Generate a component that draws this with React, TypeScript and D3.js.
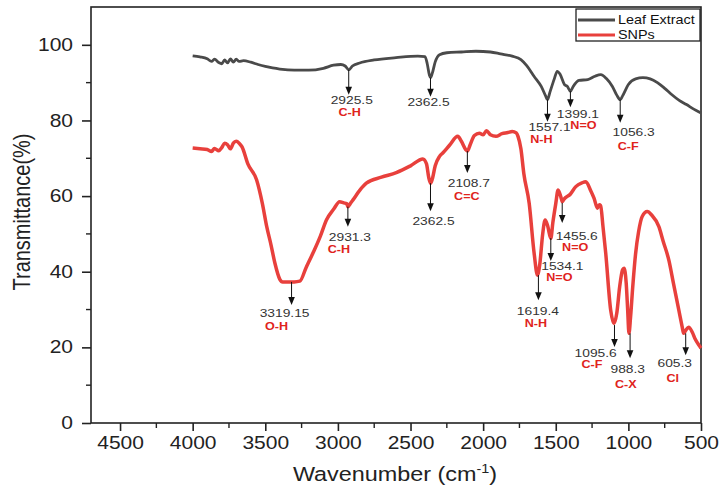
import { useEffect, useRef } from 'react';
import * as d3 from 'd3';

// FTIR spectra, [wavenumber, transmittance %]
const leafExtract: [number, number][] = [
  [4000, 97.1], [3950, 96.8], [3900, 96.3], [3870, 95.6], [3850, 96.2], [3820, 95.3],
  [3800, 95.0], [3780, 96.0], [3760, 95.2], [3740, 96.3], [3720, 95.4], [3700, 96.2],
  [3680, 95.6], [3650, 95.8], [3600, 95.4], [3550, 94.8], [3500, 94.3], [3450, 93.9],
  [3400, 93.6], [3300, 93.3], [3200, 93.3], [3100, 93.8], [3030, 94.6], [2980, 94.8],
  [2950, 94.4], [2925, 93.4], [2900, 94.4], [2850, 95.2], [2750, 96.0], [2600, 96.6],
  [2450, 97.0], [2400, 96.9], [2385, 95.0], [2370, 92.0], [2362, 91.3], [2350, 92.5],
  [2330, 95.5], [2300, 97.4], [2250, 97.9], [2150, 98.1], [2050, 98.3], [1950, 98.1],
  [1880, 97.6], [1800, 97.0], [1740, 96.1], [1700, 94.5], [1650, 91.7], [1600, 89.0],
  [1570, 86.5], [1557, 85.5], [1540, 87.5], [1510, 91.0], [1490, 93.0], [1470, 92.2],
  [1440, 89.5], [1420, 89.0], [1399, 87.7], [1380, 89.0], [1340, 90.6], [1280, 90.8],
  [1230, 91.7], [1190, 92.1], [1150, 91.0], [1110, 89.0], [1080, 86.7], [1056, 85.5],
  [1040, 86.5], [1000, 89.5], [950, 91.0], [900, 91.3], [850, 91.0], [800, 90.0],
  [750, 88.5], [700, 86.8], [650, 85.3], [600, 84.2], [550, 83.0], [500, 82.0],
];

const snps: [number, number][] = [
  [4000, 72.7], [3950, 72.5], [3900, 72.3], [3870, 71.8], [3850, 72.6], [3820, 72.0],
  [3800, 72.8], [3780, 74.0], [3760, 73.6], [3740, 72.5], [3720, 74.0], [3700, 74.5],
  [3680, 74.0], [3660, 73.0], [3620, 68.5], [3560, 64.3], [3520, 58.0], [3490, 51.9],
  [3460, 47.0], [3434, 42.3], [3400, 38.0], [3380, 37.3], [3300, 37.3], [3262, 37.5],
  [3220, 41.0], [3171, 45.0], [3120, 49.5], [3079, 53.7], [3030, 56.5], [2988, 58.5],
  [2960, 58.2], [2940, 58.0], [2931, 57.2], [2915, 58.0], [2896, 59.0], [2850, 61.5],
  [2804, 63.4], [2700, 65.0], [2598, 66.2], [2500, 68.0], [2415, 69.8], [2390, 68.5],
  [2375, 65.0], [2362, 63.4], [2350, 64.5], [2330, 68.0], [2300, 70.5], [2278, 71.4],
  [2230, 73.5], [2175, 75.8], [2150, 74.5], [2120, 72.3], [2108, 71.9], [2090, 73.5],
  [2060, 76.0], [2026, 76.6], [2000, 76.2], [1977, 77.3], [1950, 76.2], [1912, 75.8],
  [1870, 76.5], [1830, 76.8], [1800, 77.1], [1772, 76.7], [1760, 75.8], [1740, 72.5],
  [1720, 66.0], [1683, 58.1], [1649, 44.9], [1626, 39.1], [1610, 42.0], [1590, 50.0],
  [1573, 53.7], [1555, 52.0], [1534, 48.8], [1520, 53.0], [1500, 58.0], [1484, 61.6],
  [1465, 59.8], [1455, 58.5], [1443, 59.2], [1400, 60.5], [1362, 62.5], [1320, 63.5],
  [1293, 63.8], [1260, 61.5], [1236, 59.4], [1213, 56.8], [1200, 57.7], [1191, 57.5],
  [1175, 52.0], [1156, 44.9], [1122, 29.9], [1099, 26.3], [1080, 29.0], [1060, 36.0],
  [1040, 40.5], [1030, 40.9], [1015, 37.0], [1005, 30.0], [996, 23.7], [985, 28.0],
  [970, 36.0], [950, 44.9], [930, 50.5], [905, 54.6], [870, 55.9], [840, 55.0],
  [790, 51.9], [760, 48.0], [721, 43.0], [690, 37.0], [653, 29.9], [630, 25.5],
  [620, 23.7], [605, 24.5], [585, 25.3], [560, 24.0], [540, 22.2], [515, 20.6], [500, 19.8],
];

// peak annotations
const leafPeaks = ['2925.5', '2362.5', '1557.1', '1399.1', '1056.3'];
const leafPeakT = [93.4, 91.3, 85.5, 87.7, 85.5];
const leafGroups = ['C-H', '', 'N-H', 'N=O', 'C-F'];

const snpPeaks = ['3319.15', '2931.3', '2362.5', '2108.7', '1619.4', '1534.1', '1455.6', '1095.6', '988.3', '605.3'];
const snpPeakT = [37.3, 57.2, 63.4, 71.9, 39.1, 48.9, 58.2, 25.9, 23.7, 23.7];
const snpGroups = ['O-H', 'C-H', '', 'C=C', 'N-H', 'N=O', 'N=O', 'C-F', 'C-X', 'Cl'];

// label placement: arrow length, number dx/dy, group dx/dy (px from arrow tip)
const leafLayout = [
  [25, 3, 5, 1, 18], [19, -2, 5, 0, 0], [22, 2, 5, -6, 18], [16, 7.5, 7, 13, 18], [23, 13.5, 9, 8, 24],
];
const snpLayout = [
  [23, -7, 8, -15, 21], [20, 2, 10, -9, 22.5], [28, 3, 10, 0, 0], [22, 1.5, 10, -0.5, 23.4],
  [25, -0.5, 11, -2.5, 23], [23, 11.5, 4.7, 8.5, 16.7], [20, 14.5, 12.7, 13, 24.3],
  [22, -18.8, 6.4, -22.5, 17.6], [25, -2.3, 10.8, -4.3, 26], [22, -11, 8, -13, 23],
];

const xTicks = [4500, 4000, 3500, 3000, 2500, 2000, 1500, 1000, 500];
const yTicks = [0, 20, 40, 60, 80, 100];

const W = 724;
const H = 498;
const FONT = '"Liberation Sans", Arial, sans-serif';
const SX = 1.2; // the picture is stretched sideways

export default function App() {
  const svgRef = useRef<SVGSVGElement>(null);

  useEffect(() => {
    if (!svgRef.current) return;
    const svg = d3.select(svgRef.current);
    svg.selectAll('*').remove();

    const left = 91, right = 701, top = 7, bottom = 423;
    const x = d3.scaleLinear().domain([4700, 500]).range([left, right]);
    const y = d3.scaleLinear().domain([0, 110]).range([bottom, top]);

    const txt = (px: number, py: number, s: string, size: number, fill: string, weight = 'normal', anchor = 'middle') =>
      svg
        .append('text')
        .attr('transform', `translate(${px},${py}) scale(${SX},1)`)
        .attr('dy', '0.35em')
        .attr('text-anchor', anchor)
        .attr('font-family', FONT)
        .attr('font-size', size)
        .attr('font-weight', weight)
        .attr('fill', fill)
        .text(s);

    // frame
    svg.append('rect')
      .attr('x', left).attr('y', top)
      .attr('width', right - left).attr('height', bottom - top)
      .attr('fill', 'none').attr('stroke', '#222').attr('stroke-width', 1.6);

    // x axis
    const xa = svg.append('g').attr('transform', `translate(0,${bottom})`)
      .call(d3.axisBottom(x).tickValues(xTicks).tickSize(8).tickPadding(6).tickFormat(d3.format('d')));
    xa.select('.domain').remove();
    xa.selectAll('line').attr('stroke', '#222').attr('stroke-width', 1.6);
    xa.selectAll('text')
      .attr('font-family', FONT).attr('font-size', 17.5).attr('fill', '#222')
      .attr('transform', `scale(${SX},1)`);
    d3.range(4750, 499, -500).filter((v) => v < 4700).forEach((v) => {
      svg.append('line').attr('x1', x(v)).attr('x2', x(v)).attr('y1', bottom).attr('y2', bottom + 5)
        .attr('stroke', '#222').attr('stroke-width', 1.4);
    });

    // y axis
    const ya = svg.append('g').attr('transform', `translate(${left},0)`)
      .call(d3.axisLeft(y).tickValues(yTicks).tickSize(9).tickPadding(6));
    ya.select('.domain').remove();
    ya.selectAll('line').attr('stroke', '#222').attr('stroke-width', 1.6);
    ya.selectAll('text')
      .attr('font-family', FONT).attr('font-size', 17.5).attr('fill', '#222')
      .attr('transform', `scale(${SX},1)`);
    d3.range(10, 110, 20).forEach((v) => {
      svg.append('line').attr('x1', left - 5).attr('x2', left).attr('y1', y(v)).attr('y2', y(v))
        .attr('stroke', '#222').attr('stroke-width', 1.4);
    });

    // axis titles
    const xt = svg.append('text')
      .attr('transform', `translate(395,481) scale(${SX},1)`)
      .attr('text-anchor', 'middle').attr('font-family', FONT).attr('font-size', 19.5).attr('fill', '#222');
    xt.append('tspan').text('Wavenumber (cm');
    xt.append('tspan').attr('font-size', 12).attr('dy', -8).text('-1');
    xt.append('tspan').attr('dy', 8).text(')');

    svg.append('text')
      .attr('transform', `translate(22,212) rotate(-90) scale(1,${SX})`)
      .attr('dy', '0.35em')
      .attr('text-anchor', 'middle').attr('font-family', FONT).attr('font-size', 20).attr('fill', '#222')
      .text('Transmittance(%)');

    // spectra
    const line = d3.line<[number, number]>()
      .x((d) => x(d[0]))
      .y((d) => y(d[1]))
      .curve(d3.curveMonotoneX);

    svg.append('path').datum(leafExtract).attr('d', line)
      .attr('fill', 'none').attr('stroke', '#4a4a4a').attr('stroke-width', 2.8).attr('stroke-linejoin', 'round');
    svg.append('path').datum(snps).attr('d', line)
      .attr('fill', 'none').attr('stroke', '#e8403c').attr('stroke-width', 3.5).attr('stroke-linejoin', 'round');

    // peak arrows and labels
    const annotate = (labels: string[], ts: number[], groups: string[], layout: number[][]) => {
      labels.forEach((lab, i) => {
        const [len, ndx, ndy, gdx, gdy] = layout[i];
        const px = x(+lab);
        const y0 = y(ts[i]);
        const y1 = y0 + len;
        svg.append('line').attr('x1', px).attr('x2', px).attr('y1', y0).attr('y2', y1 - 6)
          .attr('stroke', '#111').attr('stroke-width', 1);
        svg.append('path')
          .attr('d', `M${px - 3.3},${y1 - 8} L${px + 3.3},${y1 - 8} L${px},${y1} Z`)
          .attr('fill', '#111');
        txt(px + ndx, y1 + ndy, lab, 11.5, '#333');
        if (groups[i]) txt(px + gdx, y1 + gdy, groups[i], 10.5, '#e0231c', 'bold');
      });
    };
    annotate(leafPeaks, leafPeakT, leafGroups, leafLayout);
    annotate(snpPeaks, snpPeakT, snpGroups, snpLayout);

    // legend
    svg.append('rect').attr('x', 576).attr('y', 9).attr('width', 124).attr('height', 32)
      .attr('fill', '#fff').attr('stroke', '#222').attr('stroke-width', 1.3);
    const legend = [
      { name: 'Leaf Extract', color: '#4a4a4a', yy: 20 },
      { name: 'SNPs', color: '#e8403c', yy: 35 },
    ];
    legend.forEach((l) => {
      svg.append('line').attr('x1', 578).attr('x2', 615).attr('y1', l.yy).attr('y2', l.yy)
        .attr('stroke', l.color).attr('stroke-width', 3.2);
      txt(618, l.yy, l.name, 12, '#111', 'normal', 'start');
    });
  }, []);

  return (
    <svg
      ref={svgRef}
      width={W}
      height={H}
      style={{ position: 'absolute', left: 0, top: 0, background: '#fff' }}
    />
  );
}
